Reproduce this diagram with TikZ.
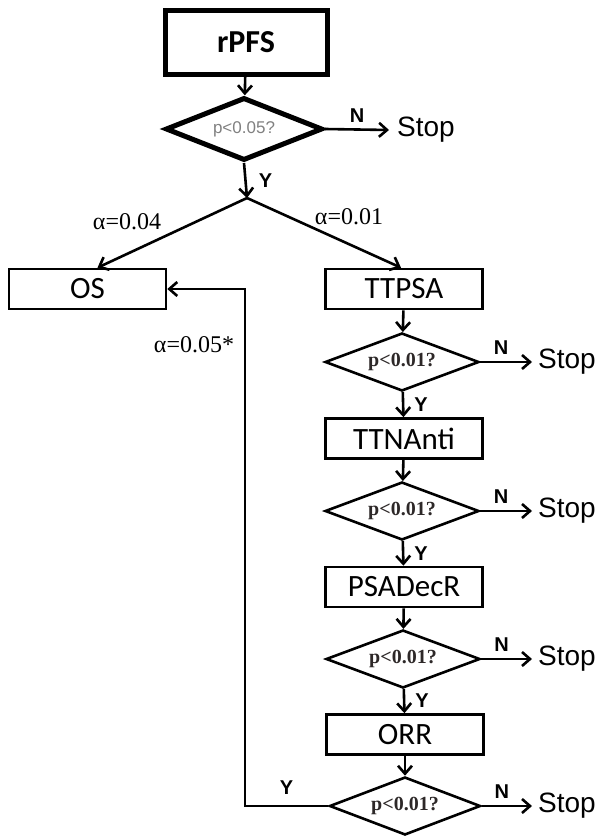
\documentclass[tikz,border=0pt]{standalone}
\usepackage{fontspec}
\usepackage{xcolor}
\setmainfont{Liberation Serif}
\newfontfamily\boxfont{Carlito}
\newfontfamily\arialfont{Liberation Sans}
\usetikzlibrary{shapes.geometric,arrows.meta}
\definecolor{qtxt}{RGB}{45,40,40}

\begin{document}
\begin{tikzpicture}[x=1pt,y=-1pt,
  box/.style={draw,line width=2.6pt,minimum width=157pt,minimum height=40pt,inner sep=0pt,
    font=\boxfont\fontsize{31}{31}\selectfont},
  test/.style={diamond,aspect=2.7,draw,line width=2.6pt,minimum width=154pt,minimum height=58pt,inner sep=0pt,
    text=qtxt,font=\bfseries\fontsize{20}{20}\selectfont},
  stopnode/.style={anchor=west,inner sep=0pt,font=\arialfont\fontsize{28}{28}\selectfont},
  yn/.style={inner sep=0pt,font=\arialfont\bfseries\fontsize{20}{20}\selectfont},
  alab/.style={inner sep=0pt,font=\fontsize{24}{24}\selectfont},
  arr/.style={-{Straight Barb[length=8pt,width=14pt]},line width=2.6pt}]
\useasboundingbox (0,0) rectangle (598,837);
% 起始框与第一个判断
\node[box,line width=5pt,minimum width=162pt,minimum height=64pt,
  font=\boxfont\bfseries\fontsize{32}{32}\selectfont] (rpfs) at (246,42.5) {rPFS};
\node[test,aspect=2.5,line width=5pt,minimum width=157pt,minimum height=63pt,
  text=gray,font=\arialfont\fontsize{17}{17}\selectfont] (d1) at (244,129) {p<0.05?};
\node[stopnode,anchor=west] (s1) at (397,130) {Stop};
\coordinate (apex) at (247,198);
% 左右两支
\node[box] (os) at (87.5,289) {OS};
\node[box] (ttpsa) at (404,289) {TTPSA};
\node[test] (d2) at (402,362) {p<0.01?};
\node[box] (ttn) at (404,438.5) {TTNAnti};
\node[test] (d3) at (402,511) {p<0.01?};
\node[box] (psa) at (404,587) {PSADecR};
\node[test] (d4) at (403,659) {p<0.01?};
\node[box] (orr) at (405,734.5) {ORR};
\node[test,minimum width=151pt] (d5) at (405,806) {p<0.01?};
% Stop 节点
\node[stopnode] (s2) at (538,362) {Stop};
\node[stopnode] (s3) at (538,511) {Stop};
\node[stopnode] (s4) at (538,659) {Stop};
\node[stopnode] (s5) at (538,806) {Stop};
\coordinate (lp) at (245,806);
% 连线
\draw[arr] (rpfs) -- (d1);
\draw[arr] (d1.east) -- node[yn,above=6pt]{N} ([xshift=-8pt]s1.west);
\draw[arr] (d1.south) -- node[yn,right=12pt]{Y} (apex);
\draw[arr] (apex) -- ([xshift=10pt]os.north);
\draw[arr] (apex) -- ([xshift=-3pt]ttpsa.north);
\draw[arr] (ttpsa) -- (d2);
\draw[arr] (d2) -- node[yn,right=10pt]{Y} (ttn);
\draw[arr] (ttn) -- (d3);
\draw[arr] (d3) -- node[yn,right=10pt]{Y} (psa);
\draw[arr] (psa) -- (d4);
\draw[arr] (d4) -- node[yn,right=10pt]{Y} (orr);
\draw[arr] (orr) -- (d5);
\foreach \d/\s in {d2/s2,d3/s3,d4/s4,d5/s5}
  \draw[arr] (\d.east) -- node[yn,above=6pt,pos=0.4]{N} ([xshift=-6pt]\s.west);
\draw[arr] (d5.west) -- node[yn,above=10pt]{Y} (lp) |- (os.east);
% α 标注
\node[alab] (a1) at (127,222) {α=0.04};
\node[alab] (a2) at (349,217) {α=0.01};
\node[alab] (a3) at (194,345) {α=0.05*};
\end{tikzpicture}
\end{document}
